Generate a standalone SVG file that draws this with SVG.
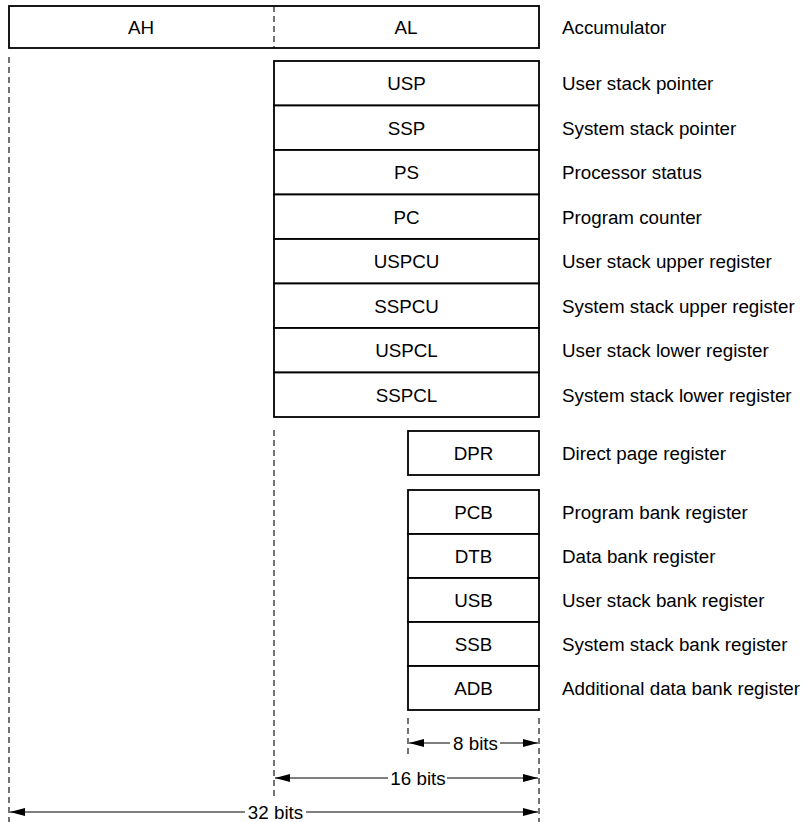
<svg xmlns="http://www.w3.org/2000/svg" width="806" height="822" viewBox="0 0 806 822">
<style>
.box{fill:#fff;stroke:#000;stroke-width:1.8}
.dash{fill:none;stroke:#000;stroke-width:1.1;stroke-dasharray:6,4}
.dim{fill:none;stroke:#000;stroke-width:1.1}
.t{font-family:"Liberation Sans",Arial,sans-serif;font-size:18.8px;fill:#000}
.c{text-anchor:middle}
</style>
<defs>
<marker id="ah" markerUnits="userSpaceOnUse" markerWidth="16" markerHeight="10" refX="15" refY="5" orient="auto">
<path d="M0,1 L15,5 L0,9 Z" fill="#000"/>
</marker>
</defs>
<rect width="806" height="822" fill="#fff"/>
<g id="guides">
<line class="dash" x1="9" y1="57" x2="9" y2="822"/>
<line class="dash" x1="274" y1="430" x2="274" y2="796"/>
<line class="dash" x1="408" y1="718" x2="408" y2="758"/>
<line class="dash" x1="539" y1="718" x2="539" y2="822"/>
</g>
<g id="accumulator">
<rect class="box" x="9" y="6" width="530" height="42"/>
<line class="dash" x1="274" y1="6" x2="274" y2="48"/>
<text class="t c" x="141" y="34">AH</text>
<text class="t c" x="406" y="34">AL</text>
<text class="t" x="562" y="34">Accumulator</text>
</g>
<g id="usp"><rect class="box" x="274" y="61" width="265" height="44.5"/><text class="t c" x="406.5" y="90">USP</text><text class="t" x="562" y="90">User stack pointer</text></g>
<g id="ssp"><rect class="box" x="274" y="105.5" width="265" height="44.5"/><text class="t c" x="406.5" y="134.5">SSP</text><text class="t" x="562" y="134.5">System stack pointer</text></g>
<g id="ps"><rect class="box" x="274" y="150" width="265" height="44.5"/><text class="t c" x="406.5" y="179">PS</text><text class="t" x="562" y="179">Processor status</text></g>
<g id="pc"><rect class="box" x="274" y="194.5" width="265" height="44.5"/><text class="t c" x="406.5" y="223.5">PC</text><text class="t" x="562" y="223.5">Program counter</text></g>
<g id="uspcu"><rect class="box" x="274" y="239" width="265" height="44.5"/><text class="t c" x="406.5" y="268">USPCU</text><text class="t" x="562" y="268">User stack upper register</text></g>
<g id="sspcu"><rect class="box" x="274" y="283.5" width="265" height="44.5"/><text class="t c" x="406.5" y="312.5">SSPCU</text><text class="t" x="562" y="312.5">System stack upper register</text></g>
<g id="uspcl"><rect class="box" x="274" y="328" width="265" height="44.5"/><text class="t c" x="406.5" y="357">USPCL</text><text class="t" x="562" y="357">User stack lower register</text></g>
<g id="sspcl"><rect class="box" x="274" y="372.5" width="265" height="44.5"/><text class="t c" x="406.5" y="401.5">SSPCL</text><text class="t" x="562" y="401.5">System stack lower register</text></g>
<g id="dpr"><rect class="box" x="408" y="431" width="131" height="44"/><text class="t c" x="473.5" y="459.5">DPR</text><text class="t" x="562" y="459.5">Direct page register</text></g>
<g id="pcb"><rect class="box" x="408" y="490" width="131" height="44"/><text class="t c" x="473.5" y="518.5">PCB</text><text class="t" x="562" y="518.5">Program bank register</text></g>
<g id="dtb"><rect class="box" x="408" y="534" width="131" height="44"/><text class="t c" x="473.5" y="562.5">DTB</text><text class="t" x="562" y="562.5">Data bank register</text></g>
<g id="usb"><rect class="box" x="408" y="578" width="131" height="44"/><text class="t c" x="473.5" y="606.5">USB</text><text class="t" x="562" y="606.5">User stack bank register</text></g>
<g id="ssb"><rect class="box" x="408" y="622" width="131" height="44"/><text class="t c" x="473.5" y="650.5">SSB</text><text class="t" x="562" y="650.5">System stack bank register</text></g>
<g id="adb"><rect class="box" x="408" y="666" width="131" height="44"/><text class="t c" x="473.5" y="694.5">ADB</text><text class="t" x="562" y="694.5">Additional data bank register</text></g>
<g id="dimensions">
<line class="dim" x1="450" y1="743" x2="409" y2="743" marker-end="url(#ah)"/>
<line class="dim" x1="500" y1="743" x2="538" y2="743" marker-end="url(#ah)"/>
<text class="t c" x="475.5" y="749.5">8 bits</text>
<line class="dim" x1="388" y1="778" x2="275" y2="778" marker-end="url(#ah)"/>
<line class="dim" x1="447" y1="778" x2="538" y2="778" marker-end="url(#ah)"/>
<text class="t c" x="418" y="784.5">16 bits</text>
<line class="dim" x1="245" y1="812" x2="10" y2="812" marker-end="url(#ah)"/>
<line class="dim" x1="306" y1="812" x2="538" y2="812" marker-end="url(#ah)"/>
<text class="t c" x="275.5" y="818.5">32 bits</text>
</g>
</svg>
